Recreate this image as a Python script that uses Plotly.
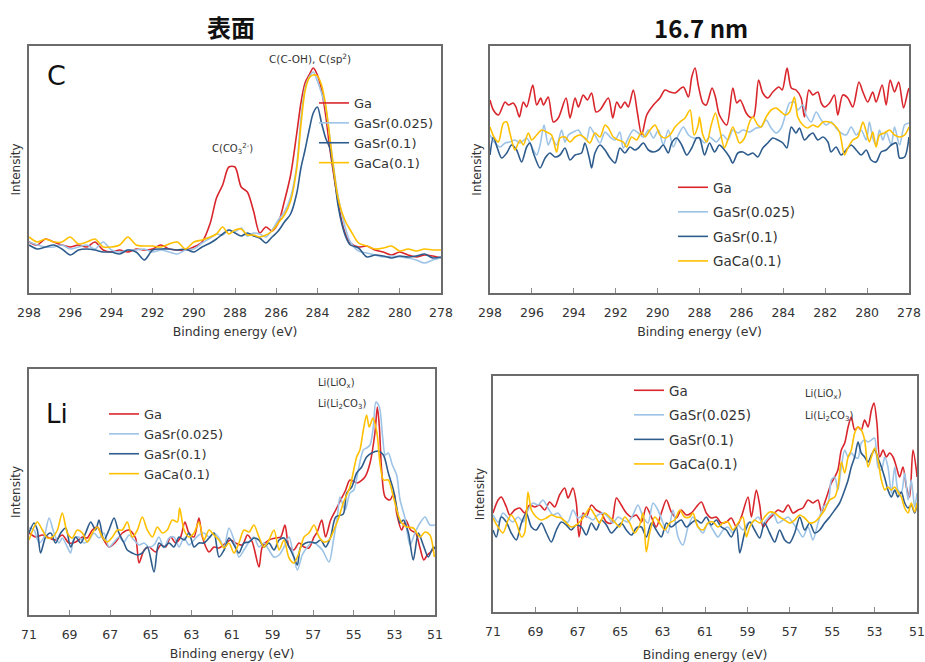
import plotly.graph_objects as go

# ---------------- data (intensity in arbitrary units) ----------------
series_names = ["Ga", "GaSr(0.025)", "GaSr(0.1)", "GaCa(0.1)"]
series_colors = ["#D9262C", "#9DC3E6", "#2E5C8C", "#FFC000"]

# C 1s, surface
c_surface_energy = [298.0, 297.6, 297.2, 296.8, 296.4, 296.0, 295.6, 295.2, 294.8, 294.4, 294.0, 293.6, 293.2,
                    292.8, 292.4, 292.0, 291.6, 291.2, 290.8, 290.4, 290.0, 289.6, 289.2, 288.9, 288.6, 288.3,
                    288.0, 287.7, 287.4, 287.1, 286.8, 286.5, 286.2, 285.9, 285.6, 285.3, 285.0, 284.8, 284.6,
                    284.4, 284.2, 284.0, 283.8, 283.6, 283.4, 283.2, 283.0, 282.8, 282.6, 282.4, 282.0, 281.6,
                    281.2, 280.8, 280.4, 280.0, 279.6, 279.2, 278.8, 278.4, 278.0]
c_surface_ga = [51, 48, 54, 51, 48, 46, 48, 46, 51, 43, 41, 43, 41, 44, 43, 44, 48, 44, 43, 43, 46, 51, 70, 95,
                108, 126, 126, 106, 101, 82, 60, 66, 62, 70, 92, 118, 160, 190, 210, 218, 225, 218, 203, 178,
                145, 117, 92, 70, 57, 50, 46, 47, 43, 41, 38, 41, 38, 36, 38, 37, 35]
c_surface_gasr025 = [51, 48, 46, 46, 48, 44, 46, 48, 44, 51, 43, 41, 43, 43, 44, 41, 43, 41, 39, 43, 44, 50, 55,
                     59, 58, 63, 61, 65, 57, 60, 59, 56, 63, 73, 81, 96, 128, 175, 205, 216, 221, 212, 200, 186,
                     156, 124, 97, 78, 62, 51, 42, 40, 38, 36, 37, 36, 35, 33, 30, 33, 35]
c_surface_gasr01 = [48, 44, 46, 48, 44, 38, 43, 44, 43, 41, 41, 39, 43, 41, 33, 43, 44, 44, 43, 44, 41, 46, 50,
                    54, 59, 63, 60, 57, 60, 57, 55, 50, 56, 62, 71, 79, 100, 125, 143, 163, 180, 186, 170, 155,
                    145, 120, 88, 68, 55, 48, 45, 36, 38, 37, 35, 37, 36, 37, 39, 35, 36]
c_surface_gaca01 = [56, 51, 54, 51, 51, 56, 49, 51, 54, 46, 46, 48, 56, 48, 47, 47, 46, 49, 51, 44, 51, 53, 56,
                    59, 66, 59, 63, 64, 58, 58, 56, 58, 62, 70, 78, 92, 125, 168, 202, 215, 218, 217, 208, 188,
                    156, 122, 95, 80, 70, 63, 50, 47, 44, 45, 47, 42, 44, 42, 44, 43, 43]

# C 1s, 16.7 nm
c_depth_energy_ga = [298.0, 297.84, 297.6, 297.28, 297.12, 296.89, 296.76, 296.6, 296.41, 296.25, 295.96, 295.77,
                     295.58, 295.45, 295.22, 294.98, 294.74, 294.37, 294.18, 293.94, 293.78, 293.55, 293.35,
                     293.15, 292.94, 292.75, 292.35, 292.14, 291.95, 291.76, 291.56, 291.4, 291.16, 290.97,
                     290.76, 290.52, 290.2, 289.89, 289.65, 289.41, 289.17, 288.77, 288.53, 288.37, 288.21,
                     288.06, 287.84, 287.68, 287.4, 287.24, 287.05, 286.7, 286.41, 286.22, 286.06, 285.77,
                     285.61, 285.42, 285.18, 284.98, 284.74, 284.5, 284.21, 284.05, 283.82, 283.62, 283.39,
                     283.15, 282.99, 282.78, 282.59, 282.35, 282.19, 282.03, 281.79, 281.56, 281.4, 281.16,
                     280.92, 280.68, 280.39, 280.2, 279.97, 279.73, 279.57, 279.28, 279.09, 278.9, 278.69,
                     278.49, 278.26, 278.06, 278.0]
c_depth_ga = [193, 183, 178, 191, 188, 190, 186, 176, 191, 186, 208, 188, 195, 188, 196, 171, 175, 195, 175, 195,
              186, 198, 193, 200, 181, 183, 195, 175, 191, 185, 191, 186, 203, 181, 158, 178, 188, 195, 203, 201,
              200, 206, 196, 216, 225, 208, 190, 188, 205, 196, 178, 168, 205, 190, 193, 180, 176, 176, 213, 200,
              195, 201, 206, 203, 225, 205, 203, 195, 176, 203, 198, 201, 190, 186, 190, 198, 178, 198, 195, 186,
              211, 201, 191, 201, 191, 208, 188, 213, 201, 211, 185, 201, 205]
c_depth_energy_gasr025 = [298.0, 297.76, 297.52, 297.28, 297.05, 296.81, 296.57, 296.25, 296.01, 295.77, 295.61,
                          295.42, 295.22, 295.06, 294.82, 294.58, 294.42, 294.26, 294.02, 293.78, 293.63, 293.39,
                          293.23, 292.99, 292.75, 292.51, 292.27, 292.03, 291.8, 291.64, 291.4, 291.16, 290.92,
                          290.68, 290.44, 290.2, 289.96, 289.73, 289.49, 289.25, 289.01, 288.77, 288.53, 288.29,
                          288.0, 287.76, 287.52, 287.2, 286.89, 286.65, 286.41, 286.17, 285.93, 285.61, 285.3,
                          285.06, 284.82, 284.58, 284.34, 284.1, 283.9, 283.7, 283.47, 283.31, 283.07, 282.91,
                          282.67, 282.43, 282.19, 281.95, 281.71, 281.48, 281.24, 281.0, 280.76, 280.52, 280.28,
                          280.04, 279.89, 279.73, 279.57, 279.41, 279.25, 279.09, 278.85, 278.69, 278.45, 278.21,
                          278.0]
c_depth_gasr025 = [158, 150, 146, 150, 151, 153, 150, 155, 146, 138, 148, 168, 148, 155, 148, 163, 151, 158, 161,
                   163, 158, 153, 166, 158, 150, 161, 156, 153, 161, 145, 155, 163, 160, 156, 163, 155, 163, 148,
                   163, 146, 158, 166, 158, 155,
                   155, 150, 156, 151, 158, 153, 163, 160, 163, 161, 165, 166, 173, 165, 160, 165, 178, 190, 191,
                   183, 188, 178, 171, 181, 173, 168, 171, 165, 160, 158, 166, 158, 163, 153, 171, 155, 148, 163,
                   153, 161, 148, 166, 148, 168, 170]
c_depth_energy_gasr01 = [298.0, 297.84, 297.65, 297.44, 297.2, 296.97, 296.73, 296.49, 296.25, 296.09, 295.93,
                         295.61, 295.37, 295.14, 294.9, 294.66, 294.42, 294.18, 293.94, 293.63, 293.47, 293.26,
                         293.15, 292.99, 292.75, 292.51, 292.27, 292.03, 291.8, 291.56, 291.32, 291.08, 290.92,
                         290.68, 290.44, 290.2, 289.96, 289.73, 289.49, 289.33, 289.09, 288.85, 288.61, 288.37,
                         288.14,
                         288.0, 287.76, 287.52, 287.28, 287.05, 286.81, 286.57, 286.41, 286.17, 285.93, 285.69,
                         285.45, 285.22, 284.98, 284.74, 284.5, 284.26, 284.02, 283.83, 283.62, 283.39, 283.23,
                         282.99, 282.75, 282.59, 282.35, 282.11, 281.87, 281.72, 281.48, 281.24, 281.0, 280.76,
                         280.52, 280.28, 280.04, 279.81, 279.57, 279.33, 279.09, 278.85, 278.61, 278.45, 278.21,
                         278.0]
c_depth_gasr01 = [138, 156, 145, 135, 140, 148, 143, 131, 146, 150, 140, 125, 135, 140, 136, 138, 145, 133, 138,
                  140, 150, 135, 125, 140, 148, 143, 135, 130, 145, 140, 146, 143, 145, 150, 143, 141, 143, 148,
                  140, 150, 155, 148, 138, 145, 155,
                  155, 138, 150, 141, 148, 143, 136, 130, 140, 141, 138, 140, 136, 145, 150, 155, 153, 150, 145,
                  166, 160, 165, 153, 158, 160, 153, 156, 151, 141, 146, 138, 143, 148, 143, 138, 143, 133, 131,
                  141, 143, 148, 150, 135, 136, 156]
c_depth_energy_gaca01 = [298.0, 297.81, 297.6, 297.36, 297.2, 297.05, 296.81, 296.57, 296.41, 296.17, 296.01,
                         295.77, 295.53, 295.3, 295.06, 294.82, 294.66, 294.42, 294.18, 293.94, 293.7, 293.47,
                         293.23, 292.99, 292.75, 292.51, 292.35, 292.11, 291.87, 291.64, 291.48, 291.24, 291.0,
                         290.76, 290.6, 290.36, 290.12, 289.89, 289.65, 289.41, 289.17, 288.93, 288.69, 288.45,
                         288.26, 288.06,
                         288.0, 287.84, 287.65, 287.44, 287.24, 287.05, 286.81, 286.65, 286.41, 286.25, 286.09,
                         285.85, 285.61, 285.45, 285.22, 285.06, 284.82, 284.58, 284.34, 284.1, 283.9, 283.7,
                         283.47, 283.31, 283.07, 282.83, 282.59, 282.35, 282.11, 281.79, 281.56, 281.32, 281.08,
                         280.92, 280.68, 280.44, 280.2, 280.04, 279.89, 279.73, 279.57, 279.41, 279.17, 278.93,
                         278.69, 278.45, 278.21, 278.0]
c_depth_gaca01 = [166, 156, 151, 170, 171, 160, 143, 153, 148, 160, 153, 158, 163, 161, 158, 141, 155, 156, 151,
                  156, 158, 155, 150, 160, 156, 168, 165, 156, 153, 151, 146, 156, 153, 161, 156, 163, 168, 158,
                  155, 158, 166, 171, 175, 183, 158, 168,
                  176, 158, 151, 168, 180, 165, 145, 153, 166, 158, 150, 155, 171, 176, 168, 166, 176, 183, 185,
                  181, 178, 181, 196, 176, 168, 165, 168, 166, 171, 171, 168, 161, 138, 145, 153, 156, 171, 161,
                  151, 161, 146, 158, 160, 163, 158, 156, 158, 166]

# Li 1s, surface
li_surface_energy_ga = [71.0, 70.67, 70.34, 70.01, 69.69, 69.36, 69.03, 68.7, 68.37, 68.13, 67.88, 67.63, 67.39,
                        67.06, 66.73, 66.4, 66.07, 65.75, 65.58, 65.33, 65.09, 64.76, 64.51, 64.27, 64.02, 63.78,
                        63.53, 63.32, 63.12, 62.87, 62.63, 62.46, 62.13, 61.89, 61.64, 61.31, 61.07, 60.82, 60.49,
                        60.24, 60.0, 59.67, 59.51, 59.18, 58.85, 58.6, 58.39, 58.19, 57.95, 57.7, 57.45, 57.21,
                        56.96, 56.8, 56.58, 56.39, 56.14, 55.89, 55.65, 55.4, 55.19, 54.83, 54.45, 54.2, 53.96,
                        53.84, 53.74, 53.63, 53.46, 53.22, 53.02, 52.89, 52.64, 52.44, 52.2, 51.95, 51.75, 51.55,
                        51.38, 51.21, 51.0]
li_surface_ga = [82, 78, 80, 77, 75, 80, 72, 73, 78, 77, 85, 88, 78, 68, 73, 82, 85, 77, 52, 65, 68, 63, 70, 68,
                 78, 72, 78, 93, 82, 78, 97, 78, 63, 68, 67, 72, 75, 72, 70, 80, 73, 48, 68, 75, 77, 78, 90, 68,
                 65, 72, 68, 67, 78, 83, 95, 78, 95, 105, 115, 125, 135, 132, 138, 152, 182, 208, 188, 145, 118,
                 115, 122, 102, 85, 95, 85, 82, 68, 55, 60, 63, 68]
li_surface_energy_gasr025 = [71.0, 70.75, 70.51, 70.26, 70.01, 69.77, 69.52, 69.36, 69.11, 68.95, 68.78, 68.54,
                             68.29, 68.04, 67.8, 67.55, 67.31, 67.06, 66.81, 66.57, 66.32, 66.07, 65.83, 65.58,
                             65.33, 65.09, 64.84, 64.6, 64.35, 64.1, 63.86, 63.61, 63.36, 63.12, 62.87, 62.63,
                             62.38, 62.13, 61.89, 61.64, 61.39, 61.15, 60.9, 60.66, 60.41, 60.16, 59.92, 59.67,
                             59.42, 59.18, 58.93, 58.68, 58.44, 58.19, 57.95, 57.78, 57.54, 57.29, 57.04, 56.8,
                             56.55, 56.22, 56.0, 55.8, 55.68, 55.43, 55.19, 55.0, 54.78, 54.53, 54.37, 54.2, 54.04,
                             53.91, 53.74, 53.58, 53.45, 53.3, 53.1, 52.89, 52.72, 52.48, 52.23, 51.99, 51.74,
                             51.49, 51.25, 51.0]
li_surface_gasr025 = [87, 85, 72, 78, 97, 82, 72, 77, 68, 62, 77, 78, 72, 75, 82, 77, 82, 68, 73, 78, 73, 80, 75,
                      70, 72, 68, 70, 78, 67, 77, 78, 68, 77, 70, 75, 80, 82, 78, 82, 77, 68, 87, 75, 58, 65, 73,
                      78, 68, 72, 65, 58, 60, 68, 78, 57, 45, 60, 68, 73, 70, 65, 53, 75, 100, 118, 105, 122,
                      125, 145, 165, 167, 170, 188, 213, 208, 178, 160, 162, 150, 140, 115, 97, 70, 82, 92, 98,
                      90, 90]
li_surface_energy_gasr01 = [71.0, 70.75, 70.59, 70.43, 70.18, 69.93, 69.69, 69.44, 69.19, 68.95, 68.7, 68.45,
                            68.21, 67.96, 67.72, 67.55, 67.31, 67.06, 66.81, 66.57, 66.32, 66.16, 65.91, 65.66,
                            65.42, 65.17, 64.84, 64.6, 64.35, 64.1, 63.86, 63.61, 63.36, 63.12, 62.87, 62.63,
                            62.38, 62.13, 61.89, 61.64, 61.39, 61.15, 60.9, 60.66, 60.41, 60.16, 59.92, 59.67,
                            59.42, 59.18, 58.93, 58.68, 58.44, 58.19, 57.95, 57.78, 57.62, 57.37, 57.13, 56.88,
                            56.63, 56.39, 56.14, 55.89, 55.52, 55.35, 55.1, 54.86, 54.61, 54.37, 54.12, 53.79,
                            53.54, 53.3, 53.05, 52.89, 52.72, 52.56, 52.32, 52.07, 51.82, 51.58, 51.33, 51.08, 51.0]
li_surface_gasr01 = [82, 92, 85, 62, 78, 82, 72, 82, 87, 68, 78, 72, 82, 93, 85, 95, 75, 85, 97, 82, 72, 65, 62,
                     60, 62, 68, 43, 72, 68, 72, 68, 78, 75, 82, 68, 72, 72, 77, 82, 58, 65, 77, 70, 62, 72, 73,
                     77, 75, 68, 72, 65, 75, 77, 68, 58, 50, 68, 72, 73, 72, 75, 68, 78, 98, 101, 122, 128, 142,
                     148, 158, 162, 164, 160, 142, 125, 108, 92, 95, 83, 55, 82, 70, 58, 68, 66]
li_surface_energy_gaca01 = [71.0, 70.75, 70.59, 70.34, 70.1, 69.85, 69.6, 69.36, 69.11, 68.87, 68.62, 68.37,
                            68.13, 67.88, 67.63, 67.39, 67.14, 66.89, 66.65, 66.4, 66.16, 65.91, 65.66, 65.42,
                            65.17, 64.92, 64.68, 64.43, 64.19, 63.94, 63.69, 63.58, 63.36, 63.12, 62.87, 62.63,
                            62.38, 62.13, 61.89, 61.64, 61.39, 61.15, 60.9, 60.66, 60.41, 60.16, 59.92, 59.67,
                            59.42, 59.18, 58.93, 58.68, 58.44, 58.19, 57.95, 57.7, 57.45, 57.21, 56.96, 56.71,
                            56.47, 56.22, 55.98, 55.73, 55.52, 55.19, 54.86, 54.7, 54.53, 54.37, 54.24, 54.06,
                            53.86, 53.71, 53.54, 53.3, 53.05, 52.81, 52.64, 52.4, 52.07, 51.74, 51.49, 51.25, 51.03]
li_surface_gaca01 = [75, 88, 93, 85, 77, 78, 85, 102, 82, 77, 85, 82, 73, 82, 88, 78, 73, 78, 85, 85, 93, 78, 85,
                     98, 85, 78, 88, 82, 85, 95, 93, 107, 85, 78, 82, 93, 75, 85, 80, 75, 67, 72, 62, 72, 85, 83,
                     90, 78, 68, 75, 85, 65, 75, 57, 52, 62, 78, 82, 90, 78, 73, 75, 85, 98, 112, 128, 158, 165,
                     185, 200, 188, 197, 182, 152, 135, 135, 118, 100, 92, 88, 87, 78, 83, 80, 58]

# Li 1s, 16.7 nm
li_depth_energy_ga = [71.0, 70.76, 70.61, 70.37, 70.21, 69.98, 69.74, 69.51, 69.27, 69.03, 68.8, 68.56, 68.33,
                      68.09, 67.86, 67.62, 67.46, 67.23, 67.07, 66.94, 66.75, 66.6, 66.36, 66.13, 65.89, 65.65,
                      65.42, 65.18, 64.95, 64.71, 64.47, 64.24, 64.0, 63.77, 63.53, 63.3, 63.06, 62.82, 62.59,
                      62.35, 62.12, 61.88, 61.64, 61.41, 61.17, 60.94, 60.7, 60.47, 60.23, 59.99, 59.76, 59.52,
                      59.29, 58.97, 58.81, 58.58, 58.42, 58.26, 58.03, 57.79, 57.56, 57.32, 57.08, 56.85, 56.61,
                      56.38, 56.14, 55.91, 55.67, 55.51, 55.36, 55.2, 55.04, 54.88, 54.73, 54.57, 54.41, 54.25,
                      54.1, 53.94, 53.78, 53.63, 53.47, 53.31, 53.15, 53.03, 52.89, 52.76, 52.6, 52.45, 52.29,
                      52.13, 51.97, 51.82, 51.66, 51.5, 51.35, 51.19, 51.03, 51.0]
li_depth_ga = [99, 112, 115, 105, 97, 102, 104, 99, 107, 105, 107, 102, 110, 105, 117, 124, 114, 124, 109, 75, 99,
               95, 107, 102, 99, 90, 89, 114, 107, 99, 95, 97, 90, 105, 95, 85, 99, 112, 100, 94, 102, 97, 99,
               105, 110, 99, 94, 95, 89, 90, 94, 85, 95, 115, 95, 122, 107, 85, 92, 97, 102, 100, 107, 99, 102,
               104, 112, 109, 112, 100, 109, 119, 129, 135, 142, 162, 169, 185, 195, 182, 185, 182, 192, 185, 202,
               209, 189, 155, 162, 155, 159, 155, 145, 135, 145, 125, 115, 162, 142, 135]
li_depth_energy_gasr025 = [71.0, 70.76, 70.53, 70.29, 70.06, 69.82, 69.58, 69.35, 69.11, 68.88, 68.64, 68.41,
                           68.17, 67.93, 67.7, 67.46, 67.23, 66.99, 66.75, 66.52, 66.28, 66.05, 65.81, 65.58,
                           65.34, 65.1, 64.87, 64.63, 64.4, 64.16, 63.92, 63.69, 63.45, 63.22, 62.98, 62.75,
                           62.51, 62.27, 62.04, 61.8, 61.57, 61.33, 61.09, 60.86, 60.62, 60.39, 60.15, 59.92,
                           59.68, 59.44, 59.21, 58.97, 58.74, 58.5, 58.26, 58.03, 57.79, 57.56, 57.32, 57.08,
                           56.85, 56.61, 56.38, 56.14, 55.91, 55.67, 55.43, 55.2, 55.04, 54.88, 54.73, 54.57,
                           54.41, 54.25, 54.1, 53.94, 53.78, 53.63, 53.47, 53.31, 53.15, 53.0, 52.84, 52.68,
                           52.52, 52.37, 52.21, 52.05, 51.9, 51.74, 51.58, 51.42, 51.27, 51.11, 51.0]
li_depth_gasr025 = [97, 90, 99, 94, 90, 95, 90, 102, 109, 107, 112, 104, 97, 99, 92, 90, 102, 94, 97, 95, 92, 97,
                    99, 95, 89, 95, 92, 90, 97, 107, 95, 89, 109, 102, 89, 79, 102, 75, 67, 85, 95, 85, 79, 89,
                    82, 75, 82, 85, 79, 87, 82, 89, 90, 95, 89, 94, 99, 89, 92, 95, 89, 82, 75, 85, 72, 89, 105,
                    109, 132, 135, 122, 145, 162, 155, 159, 155, 154, 169, 172, 170, 172, 174, 145, 142, 155,
                    145, 119, 145, 122, 119, 139, 112, 132, 105, 119]
li_depth_energy_gasr01 = [71.0, 70.84, 70.61, 70.37, 70.14, 69.9, 69.66, 69.43, 69.19, 68.96, 68.72, 68.48,
                          68.25, 68.01, 67.78, 67.54, 67.31, 67.07, 66.83, 66.6, 66.36, 66.13, 65.89, 65.65,
                          65.42, 65.18, 64.95, 64.71, 64.47, 64.24, 64.0, 63.77, 63.53, 63.3, 63.06, 62.82,
                          62.59, 62.35, 62.12, 61.88, 61.64, 61.41, 61.17, 60.94, 60.7, 60.47, 60.23, 59.99,
                          59.76, 59.52, 59.36, 59.13, 58.89, 58.66, 58.42, 58.19, 57.95, 57.71, 57.48, 57.24,
                          57.01, 56.77, 56.53, 56.3, 56.06, 55.83, 55.59, 55.36, 55.12, 54.88, 54.65, 54.41,
                          54.25, 54.1, 53.94, 53.78, 53.63, 53.47, 53.31, 53.15, 53.0, 52.84, 52.68, 52.52,
                          52.37, 52.21, 52.05, 51.9, 51.74, 51.58, 51.42, 51.27, 51.11, 51.0]
li_depth_gasr01 = [82, 75, 95, 90, 79, 72, 89, 99, 85, 82, 89, 79, 70, 82, 90, 87, 82, 87, 85, 77, 89, 82, 92,
                   87, 79, 84, 89, 82, 77, 84, 85, 75, 89, 82, 75, 89, 85, 89, 92, 85, 89, 92, 89, 95, 87, 92,
                   85, 82, 75, 85, 59, 79, 90, 82, 74, 89, 79, 70, 82, 72, 69, 79, 95, 82, 89, 79, 82, 89, 95,
                   102, 109, 122, 132, 145, 155, 170, 159, 155, 150, 157, 162, 154, 145, 134, 122, 115, 122, 115,
                   120, 109, 104, 107, 99, 107]
li_depth_energy_gaca01 = [71.0, 70.76, 70.53, 70.29, 70.14, 69.9, 69.66, 69.51, 69.35, 69.19, 68.96, 68.72,
                          68.48, 68.25, 68.01, 67.78, 67.54, 67.31, 67.07, 66.83, 66.6, 66.44, 66.2, 65.97,
                          65.73, 65.5, 65.26, 65.03, 64.79, 64.55, 64.32, 64.08, 63.92, 63.77, 63.61, 63.37,
                          63.14, 62.9, 62.67, 62.43, 62.19, 61.96, 61.72, 61.57, 61.33, 61.09, 60.86, 60.62,
                          60.39, 60.15, 59.92, 59.68, 59.44, 59.21, 59.05, 58.89, 58.66, 58.42, 58.19, 57.95,
                          57.71, 57.48, 57.24, 57.01, 56.77, 56.53, 56.3, 56.06, 55.83, 55.59, 55.36, 55.12,
                          54.88, 54.73, 54.57, 54.41, 54.25, 54.1, 53.94, 53.78, 53.63, 53.47, 53.31, 53.15,
                          53.0, 52.84, 52.68, 52.52, 52.37, 52.21, 52.05, 51.9, 51.74, 51.58, 51.42, 51.27,
                          51.11, 51.0]
li_depth_gaca01 = [94, 85, 79, 92, 97, 89, 75, 79, 120, 102, 95, 92, 94, 97, 95, 94, 89, 85, 87, 92, 99, 104, 97,
                   89, 99, 95, 90, 85, 95, 89, 79, 87, 99, 60, 79, 95, 89, 82, 89, 92, 102, 95, 95, 99, 85, 82,
                   89, 90, 85, 89, 90, 82, 89, 95, 75, 85, 92, 89, 95, 100, 99, 95, 92, 89, 92, 97, 94, 89, 90,
                   95, 102, 112, 115, 125, 150, 139, 155, 162, 179, 185, 182, 172, 145, 155, 164, 152, 132, 122,
                   125, 122, 125, 120, 115, 104, 99, 109, 100, 109]

c_ticks = [298, 296, 294, 292, 290, 288, 286, 284, 282, 280, 278]
li_ticks = [71, 69, 67, 65, 63, 61, 59, 57, 55, 53, 51]

# ---------------- layout helpers (pixel -> paper) ----------------
W, H = 925, 662
def fx(px):
    return px / W
def fy(py):
    return 1 - py / H

TXT = "#333333"
FONT = "DejaVu Sans"

panels = [
    dict(ax="", xs=(29, 441), ys=(46, 293), xr=[298, 278], ticks=c_ticks, yr=[0, 247], leg="legend",
         data=[(c_surface_energy, c_surface_ga), (c_surface_energy, c_surface_gasr025),
               (c_surface_energy, c_surface_gasr01), (c_surface_energy, c_surface_gaca01)],
         legpos=(314, 88), grouped=False, legsize=13, tstand=8),
    dict(ax="2", xs=(490, 909), ys=(46, 293), xr=[298, 278], ticks=c_ticks, yr=[0, 247], leg="legend2",
         data=[(c_depth_energy_ga, c_depth_ga), (c_depth_energy_gasr025, c_depth_gasr025),
               (c_depth_energy_gasr01, c_depth_gasr01), (c_depth_energy_gaca01, c_depth_gaca01)],
         legpos=(673, 172), grouped=True, legsize=13.5, tstand=8),
    dict(ax="3", xs=(29, 435), ys=(369, 615), xr=[71, 51], ticks=li_ticks, yr=[0, 246], leg="legend3",
         data=[(li_surface_energy_ga, li_surface_ga), (li_surface_energy_gasr025, li_surface_gasr025),
               (li_surface_energy_gasr01, li_surface_gasr01), (li_surface_energy_gaca01, li_surface_gaca01)],
         legpos=(104, 399), grouped=False, legsize=13, tstand=8),
    dict(ax="4", xs=(493, 917), ys=(376, 612), xr=[71, 51], ticks=li_ticks, yr=[0, 236], leg="legend4",
         data=[(li_depth_energy_ga, li_depth_ga), (li_depth_energy_gasr025, li_depth_gasr025),
               (li_depth_energy_gasr01, li_depth_gasr01), (li_depth_energy_gaca01, li_depth_gaca01)],
         legpos=(629, 375), grouped=True, legsize=13.5, tstand=12),
]

fig = go.Figure()
layout = dict(
    width=W, height=H, margin=dict(l=0, r=0, t=0, b=0, autoexpand=False),
    paper_bgcolor="white", plot_bgcolor="white",
    font=dict(family=FONT, color=TXT),
    annotations=[],
)

for pi, p in enumerate(panels):
    xname, yname = "x" + p["ax"], "y" + p["ax"]
    for si, (ex, iy) in enumerate(p["data"]):
        fig.add_trace(go.Scatter(
            x=ex, y=iy, mode="lines", name=series_names[si],
            line=dict(color=series_colors[si], width=1.6, shape="spline", smoothing=0.8),
            xaxis=xname, yaxis=yname, legend=p["leg"],
            legendgroup=(f"{p['leg']}_{si}" if p["grouped"] else None),
            hoverinfo="skip",
        ))
    layout["xaxis" + p["ax"]] = dict(
        domain=[fx(p["xs"][0]), fx(p["xs"][1])], anchor=yname, automargin=False,
        range=p["xr"], autorange=False, tickmode="array", tickvals=p["ticks"],
        ticktext=[str(t) for t in p["ticks"]],
        ticks="inside", ticklen=5, tickwidth=1, tickcolor="#8c8c8c",
        showline=True, linecolor="#6b6b6b", linewidth=1.5, mirror=True,
        showgrid=False, zeroline=False, ticklabelstandoff=7,
        tickfont=dict(family=FONT, size=12.5, color=TXT),
        title=dict(text="Binding energy (eV)", font=dict(family=FONT, size=12.5, color=TXT),
                   standoff=p["tstand"]),
    )
    layout["yaxis" + p["ax"]] = dict(
        domain=[fy(p["ys"][1]), fy(p["ys"][0])], anchor=xname, automargin=False,
        range=p["yr"], autorange=False, showticklabels=False, ticks="",
        showline=True, linecolor="#6b6b6b", linewidth=1.5, mirror=True,
        showgrid=False, zeroline=False,
        title=dict(text="Intensity", font=dict(family=FONT, size=12, color=TXT), standoff=4),
    )
    layout[p["leg"]] = dict(
        x=fx(p["legpos"][0]), y=fy(p["legpos"][1]), xanchor="left", yanchor="top",
        bgcolor="rgba(0,0,0,0)", borderwidth=0,
        font=dict(family=FONT, size=p["legsize"], color=TXT),
        tracegroupgap=4, itemclick=False, itemdoubleclick=False,
    )

def ann(text, x, y, size, xanchor="center", family=FONT, color=TXT):
    layout["annotations"].append(dict(
        text=text, x=fx(x), y=fy(y), xref="paper", yref="paper",
        xanchor=xanchor, yanchor="middle", showarrow=False,
        font=dict(family=family, size=size, color=color)))

# column titles
ann("<b>表面</b>", 231, 26, 24, family="Noto Sans CJK JP", color="#111111")
ann("<b>16.7 nm</b>", 701, 27, 24, family="Noto Sans CJK JP", color="#111111")
# element labels
ann("C", 56, 75, 27, color="#111111")
ann("Li", 57, 414, 26, color="#111111")
# peak assignments
ann("C(C-OH), C(sp<sup>2</sup>)", 310, 59, 10.5)
ann("C(CO<sub>3</sub><sup>2-</sup>)", 233, 149, 10)
ann("Li(LiO<sub>x</sub>)", 316, 383, 10, xanchor="left")
ann("Li(Li<sub>2</sub>CO<sub>3</sub>)", 316, 404, 10, xanchor="left")
ann("Li(LiO<sub>x</sub>)", 803, 394, 10, xanchor="left")
ann("Li(Li<sub>2</sub>CO<sub>3</sub>)", 803, 416, 10, xanchor="left")

fig.update_layout(**layout)
fig.write_html("out.html")
